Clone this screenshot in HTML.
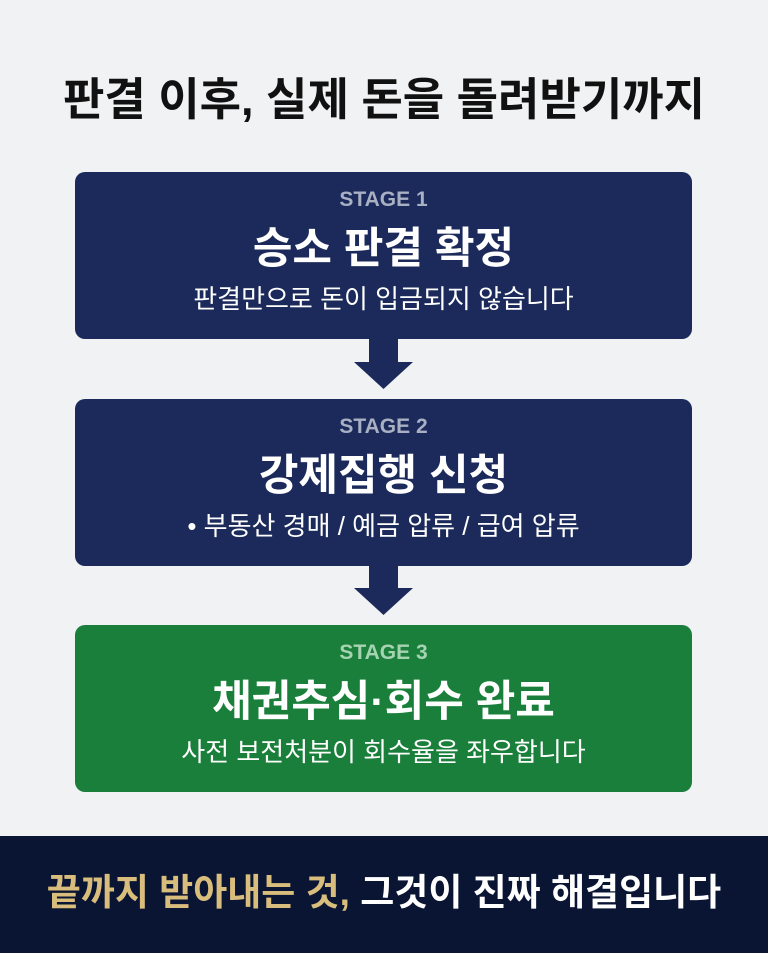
<!DOCTYPE html>
<html><head><meta charset="utf-8"><style>
*{margin:0;padding:0;box-sizing:border-box}
body{width:768px;height:953px;background:#f1f2f4;position:relative;overflow:hidden;font-family:"Liberation Sans","Noto Sans CJK KR",sans-serif}
.t{position:absolute;left:0;width:768px;text-align:center;white-space:nowrap;line-height:1}
.box{position:absolute;left:75px;width:617px;height:167px;border-radius:10px;background:#1b2a5a}
.box div{position:absolute;width:100%;text-align:center;line-height:1;white-space:nowrap}
.box .s{top:17px;font-size:21px;font-weight:bold;color:#a9b0c3}
.box .h{top:56px;font-size:43px;font-weight:bold;color:#fff}
.box .d{top:114px;font-size:26px;color:#fff}
</style></head><body>
<div class="t" style="top:77px;font-size:45px;font-weight:bold;color:#111">판결 이후, 실제 돈을 돌려받기까지</div>
<div class="box" style="top:172px"><div class="s">STAGE 1</div><div class="h">승소 판결 확정</div><div class="d">판결만으로 돈이 입금되지 않습니다</div></div>
<div class="box" style="top:399px"><div class="s">STAGE 2</div><div class="h">강제집행 신청</div><div class="d">• 부동산 경매 / 예금 압류 / 급여 압류</div></div>
<div class="box" style="top:625px;background:#1a7f3a"><div class="s" style="color:#a6d3b2">STAGE 3</div><div class="h">채권추심·회수 완료</div><div class="d">사전 보전처분이 회수율을 좌우합니다</div></div>
<svg style="position:absolute;left:0;top:0" width="768" height="953">
<polygon points="369,339 398,339 398,362 413,362 383.5,389 354,362 369,362" fill="#1b2a5a"/>
<polygon points="369,566 398,566 398,588 413,588 383.5,615 354,588 369,588" fill="#1b2a5a"/>
</svg>
<div style="position:absolute;left:0;top:836px;width:768px;height:117px;background:#0a1433"></div>
<div class="t" style="top:874px;font-size:37px;font-weight:bold;color:#fff"><span style="color:#d9bd7c">끝까지 받아내는 것,</span> 그것이 진짜 해결입니다</div>
</body></html>
